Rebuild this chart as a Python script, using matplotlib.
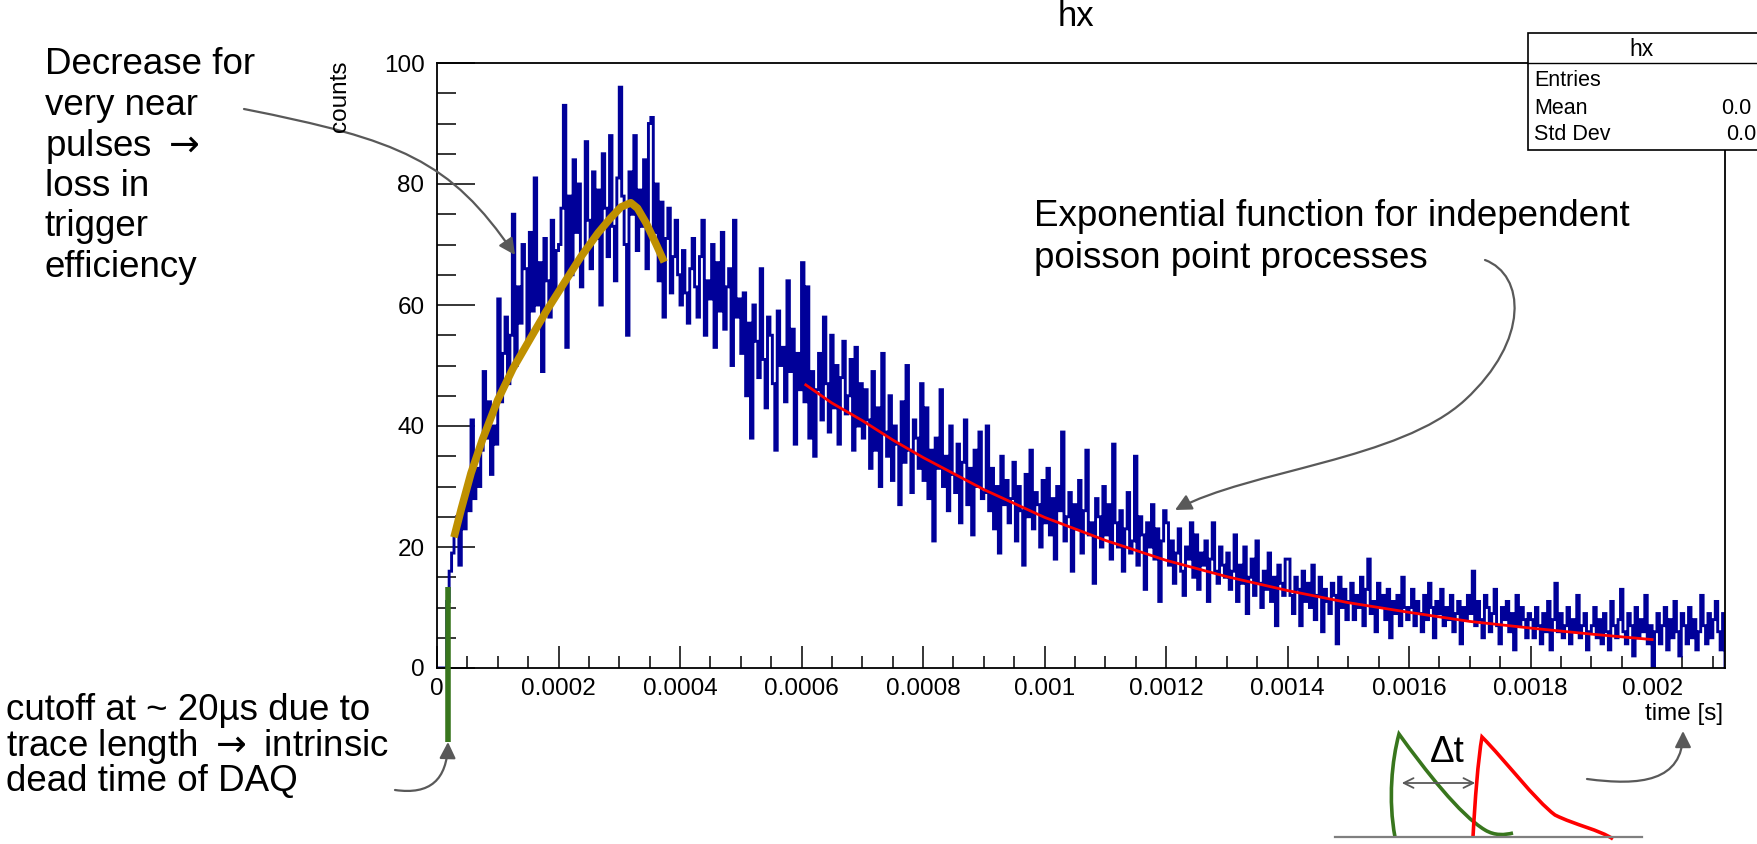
import numpy as np
import matplotlib
matplotlib.use('Agg')
from matplotlib import pyplot as plt
from matplotlib.path import Path
from matplotlib.patches import FancyArrowPatch, PathPatch, Rectangle

plt.rcParams['font.family'] = ['Liberation Sans', 'DejaVu Sans']

W, H = 1758, 844

# histogram "hx": counts per 4 us bin, starting at t = 0
bin_width = 4e-6
counts = [
    0, 0, 0, 0, 11, 16, 19, 22, 25, 17, 27, 23, 29, 26, 41, 28, 33, 30, 36, 49, 38, 44, 32, 40, 37,   # 0-100 us
    61, 44, 52, 58, 47, 55, 75, 50, 63, 57, 70, 66, 54, 72, 59, 81, 60, 67, 49, 71, 64, 58, 74, 62, 69,
    70, 76, 93, 53, 78, 65, 84, 72, 80, 63, 69, 87, 74, 66, 82, 71, 79, 60, 85, 76, 68, 88, 73, 64, 81,
    96, 78, 70, 55, 82, 75, 88, 69, 79, 73, 84, 66, 90, 91, 72, 80, 64, 77, 58, 71, 76, 62, 68, 74, 65,
    60, 69, 62, 57, 66, 71, 63, 58, 68, 74, 55, 64, 61, 70, 53, 67, 59, 72, 56, 63, 66, 50, 74, 58, 61,
    52, 62, 45, 57, 38, 60, 54, 48, 66, 51, 43, 58, 55, 47, 36, 59, 50, 53, 44, 64, 49, 56, 37, 52, 46,
    67, 44, 63, 38, 49, 35, 46, 52, 41, 58, 47, 39, 55, 43, 50, 37, 48, 54, 42, 45, 51, 36, 53, 40, 47,
    38, 46, 41, 33, 49, 36, 43, 30, 52, 39, 35, 45, 31, 40, 37, 27, 44, 34, 50, 36, 29, 41, 38, 33, 47,
    31, 43, 28, 36, 21, 38, 33, 46, 30, 35, 26, 40, 32, 29, 37, 24, 34, 41, 27, 33, 22, 36, 30, 39, 28,
    29, 40, 26, 33, 23, 30, 19, 35, 27, 31, 24, 28, 34, 21, 30, 26, 17, 32, 25, 36, 23, 29, 27, 20, 31,
    24, 33, 22, 28, 18, 30, 26, 39, 21, 25, 29, 16, 27, 23, 31, 19, 26, 36, 22, 24, 14, 28, 25, 20, 30,  # 1000-1100 us
    22, 27, 18, 37, 24, 20, 26, 16, 23, 29, 19, 21, 35, 17, 25, 22, 13, 24, 20, 27, 18, 23, 11, 21, 26,
    24, 17, 21, 14, 19, 23, 16, 12, 20, 18, 24, 15, 22, 13, 19, 17, 21, 11, 18, 24, 16, 14, 20, 17, 15,
    19, 13, 16, 22, 11, 17, 14, 20, 9, 15, 18, 12, 21, 14, 10, 16, 13, 19, 11, 15, 7, 17, 14, 12, 18,
    18, 12, 9, 15, 13, 7, 16, 11, 14, 10, 17, 8, 12, 15, 6, 13, 11, 9, 14, 12, 4, 15, 10, 13, 8,
    11, 14, 8, 12, 10, 15, 7, 13, 18, 9, 11, 6, 14, 10, 12, 8, 13, 5, 11, 9, 12, 7, 15, 10, 8,
    10, 13, 7, 11, 9, 6, 12, 8, 14, 10, 5, 11, 9, 13, 7, 10, 8, 12, 6, 9, 11, 4, 10, 8, 12,
    9, 16, 7, 11, 8, 5, 12, 10, 6, 9, 13, 7, 4, 10, 8, 11, 6, 9, 3, 12, 7, 10, 8, 5, 9,
    8, 5, 10, 7, 4, 9, 6, 11, 3, 8, 14, 6, 9, 5, 7, 10, 4, 8, 6, 12, 5, 7, 9, 3, 6,
    7, 10, 5, 8, 4, 9, 6, 3, 11, 7, 5, 8, 13, 6, 4, 9, 7, 2, 10, 5, 8, 6, 12, 4, 7,
    0, 6, 9, 4, 7, 10, 3, 8, 5, 11, 6, 2, 9, 7, 4, 10, 5, 8, 3, 6, 12, 7, 4, 9, 5, 8, 11, 6, 3, 9,  # 2000-2120 us
]

# hand drawn rise curve (gold) and exponential fit (red)
gold_t = [28e-6, 40e-6, 56e-6, 75e-6, 100e-6, 125e-6, 155e-6, 180e-6, 209e-6, 237e-6,
          265e-6, 285e-6, 303e-6, 319e-6, 330e-6, 344e-6, 360e-6, 374e-6]
gold_y = [21.6, 26.3, 32.2, 37.8, 44.3, 49.5, 54.7, 59.0, 63.6, 68.0,
          71.9, 74.3, 76.2, 76.9, 76.0, 73.6, 70.2, 67.1]
red_t = [607e-6, 650e-6, 700e-6, 750e-6, 800e-6, 900e-6, 1000e-6, 1100e-6, 1200e-6,
         1300e-6, 1400e-6, 1500e-6, 1600e-6, 1700e-6, 1800e-6, 1900e-6, 2000e-6]
red_y = [46.8, 43.8, 40.9, 37.7, 34.8, 29.5, 24.9, 21.1, 17.8,
         15.1, 12.8, 10.8, 9.2, 7.7, 6.6, 5.6, 4.7]

# trace length cutoff marker
cutoff_t = 18e-6
cutoff_top = 13.4
cutoff_bottom = -12.2

x_ticks = [0, 0.0002, 0.0004, 0.0006, 0.0008, 0.001, 0.0012, 0.0014, 0.0016, 0.0018, 0.002]
x_labels = ['0', '0.0002', '0.0004', '0.0006', '0.0008', '0.001', '0.0012', '0.0014', '0.0016', '0.0018', '0.002']
y_ticks = [0, 20, 40, 60, 80, 100]

# stats box is cut by the canvas edge: only the start of the values shows
stat_names = ['Entries', 'Mean', 'Std Dev']
stat_values = ['', '0.0', '0.0']

hist_color = '#000099'
gold = '#bf9000'
green = '#38761d'
gray = '#595959'


def fx(x):
    return x / W


def fy(y):
    return 1 - y / H


def curve(points, codes):
    return Path([(fx(x), fy(y)) for x, y in points], codes)


fig = plt.figure(figsize=(W / 100, H / 100), dpi=100)
ax = fig.add_axes([fx(437), fy(668), (1725 - 437) / W, (668 - 63) / H])

edges = np.arange(len(counts) + 1) * bin_width
ax.stairs(counts, edges, color=hist_color, linewidth=2.1, zorder=2)
ax.plot(red_t, red_y, color='red', linewidth=2.0, zorder=3)
ax.plot(gold_t, gold_y, color=gold, linewidth=5.5, solid_capstyle='butt', zorder=4)
ax.plot([cutoff_t, cutoff_t], [cutoff_bottom, cutoff_top], color=green, linewidth=4,
        solid_capstyle='butt', clip_on=False, zorder=5)

ax.set_xlim(0, edges[-1])
ax.set_ylim(0, 100)
ax.set_xticks(x_ticks)
ax.set_xticklabels(x_labels)
ax.set_xticks(np.arange(0, edges[-1], 0.00005), minor=True)
ax.set_yticks(y_ticks)
ax.set_yticks(np.arange(0, 101, 5), minor=True)
ax.tick_params(axis='x', which='major', direction='in', length=16, width=1.1, pad=7, labelsize=17.5)
ax.tick_params(axis='x', which='minor', direction='in', length=8.5, width=1.1)
ax.tick_params(axis='y', which='major', direction='in', length=27, width=1.1, pad=9, labelsize=17.5)
ax.tick_params(axis='y', which='minor', direction='in', length=13.5, width=1.1)
for s in ax.spines.values():
    s.set_linewidth(1.3)

fig.text(fx(340), fy(60), 'counts', rotation=90, ha='center', va='top', fontsize=17.5)
fig.text(fx(1723), fy(714), 'time [s]', ha='right', va='center', fontsize=17.5)
fig.text(fx(1076), fy(26), 'hx', ha='center', va='baseline', fontsize=25)

# stats box, cut by the right edge of the canvas
fig.add_artist(Rectangle((fx(1528), fy(150)), fx(1800) - fx(1528), fy(33) - fy(150),
                         transform=fig.transFigure, facecolor='white', edgecolor='black',
                         linewidth=1.2, zorder=6))
fig.add_artist(plt.Line2D([fx(1528), fx(1800)], [fy(63), fy(63)], transform=fig.transFigure,
                          color='black', linewidth=1.0, zorder=7))
fig.text(fx(1642), fy(50), 'hx', ha='center', va='center', fontsize=16.5, zorder=7)
for i, (name, val) in enumerate(zip(stat_names, stat_values)):
    yy = 81 + i * 27
    fig.text(fx(1534), fy(yy), name, ha='left', va='center', fontsize=15.5, zorder=7)
    if val:
        fig.text(fx(1721 + 5 * (i - 1)), fy(yy), val, ha='left', va='center', fontsize=15.5, zorder=7)

# annotations
note_size = 26.5
arrow = r'$\rightarrow$'


def note(lines, x, y0, step, size=note_size):
    for i, line in enumerate(lines):
        fig.text(fx(x), fy(y0 + i * step), line, ha='left', va='center', fontsize=size)


note(['Decrease for', 'very near', 'pulses ' + arrow, 'loss in', 'trigger', 'efficiency'], 45, 65, 40.5)
note(['Exponential function for independent', 'poisson point processes'], 1034, 216, 42)
note(['cutoff at ~ 20\u00b5s due to', 'trace length ' + arrow + ' intrinsic', 'dead time of DAQ'], 6, 711, 35)

C4, M = Path.CURVE4, Path.MOVETO
arrows = [
    ([(244, 109), (400, 140), (450, 160), (515, 255)], [M, C4, C4, C4]),
    ([(1485, 260), (1525, 275), (1530, 340), (1465, 400), (1400, 460), (1250, 470), (1175, 510)],
     [M, C4, C4, C4, C4, C4, C4]),
    ([(395, 790), (430, 795), (447, 780), (448, 742)], [M, C4, C4, C4]),
    ([(1587, 779), (1640, 786), (1683, 782), (1683, 731)], [M, C4, C4, C4]),
]
for pts, codes in arrows:
    fig.add_artist(FancyArrowPatch(path=curve(pts, codes), arrowstyle='-|>,head_length=0.7,head_width=0.35',
                                   mutation_scale=14, color=gray, linewidth=1.6,
                                   transform=fig.transFigure))

# pulse sketch
fig.add_artist(plt.Line2D([fx(1335), fx(1642)], [fy(837), fy(837)], transform=fig.transFigure,
                          color='#7f7f7f', linewidth=1.6))
green_pulse = curve([(1395, 837), (1388, 800), (1392, 760), (1399, 734),
                     (1425, 770), (1460, 815), (1485, 830),
                     (1495, 836), (1505, 835), (1513, 833)], [M] + [C4] * 9)
red_pulse = curve([(1473, 837), (1475, 800), (1478, 760), (1482, 737),
                   (1505, 760), (1535, 800), (1555, 815),
                   (1575, 825), (1600, 830), (1613, 839)], [M] + [C4] * 9)
fig.add_artist(PathPatch(green_pulse, fill=False, edgecolor=green, linewidth=2.6,
                         transform=fig.transFigure))
fig.add_artist(PathPatch(red_pulse, fill=False, edgecolor='red', linewidth=2.6,
                         transform=fig.transFigure))
fig.add_artist(FancyArrowPatch((fx(1399), fy(783)), (fx(1478), fy(783)), arrowstyle='<->,head_length=0.5,head_width=0.25',
                               mutation_scale=14, color=gray, linewidth=1.3, transform=fig.transFigure))
fig.text(fx(1447), fy(752), '\u0394t', ha='center', va='center', fontsize=note_size)

fig.savefig('out.png', dpi=100)
